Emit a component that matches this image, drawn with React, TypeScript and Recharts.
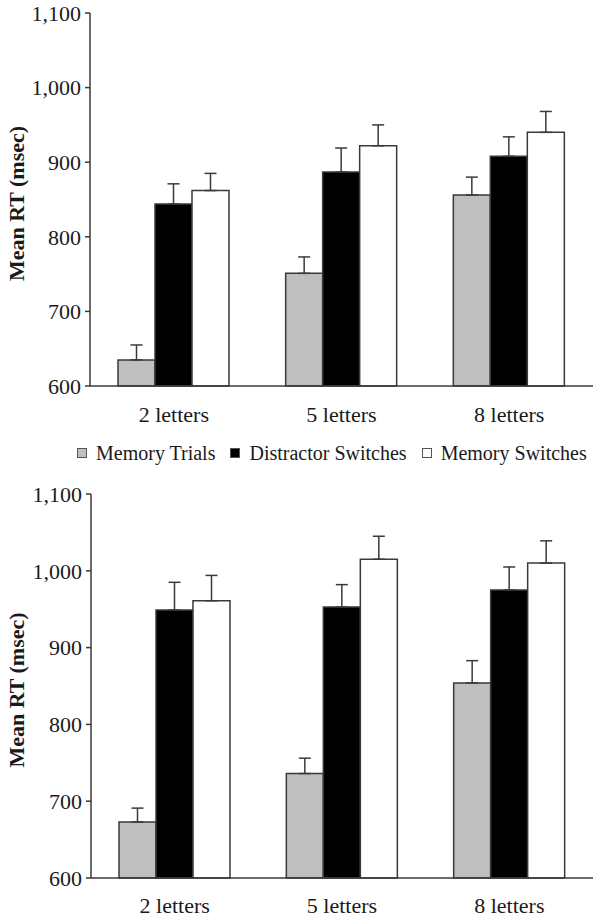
import { BarChart, Bar, XAxis, YAxis, ErrorBar } from "recharts"

const letterSets = ["2 letters", "5 letters", "8 letters"]
const seriesNames = ["Memory Trials", "Distractor Switches", "Memory Switches"]
const seriesFills = ["#bfbfbf", "#000000", "#ffffff"]

// upper panel means and SE (msec)
const upperMemoryTrials = [635, 751, 856]
const upperDistractorSwitches = [844, 887, 908]
const upperMemorySwitches = [862, 922, 940]
const upperMemoryTrialsErr = [20, 22, 24]
const upperDistractorSwitchesErr = [27, 32, 26]
const upperMemorySwitchesErr = [23, 28, 28]

// lower panel means and SE (msec)
const lowerMemoryTrials = [673, 736, 854]
const lowerDistractorSwitches = [949, 953, 975]
const lowerMemorySwitches = [961, 1015, 1010]
const lowerMemoryTrialsErr = [18, 20, 29]
const lowerDistractorSwitchesErr = [36, 29, 30]
const lowerMemorySwitchesErr = [33, 30, 29]

const rtTicks = [600, 700, 800, 900, 1000, 1100]
const boundaryTicks = [0, 1, 2, 3]

const FONT = "Liberation Serif, Times New Roman, Times, DejaVu Serif, serif"
const INK = "#1a1a1a"
const LINE = "#3a3a3a"

function buildRows(values: number[][], errs: number[][]) {
    return letterSets.map((name, i) => {
        const row: Record<string, any> = { name }
        values.forEach((series, s) => {
            row[`s${s}`] = series[i]
            // only the upper half of the error bar is drawn
            row[`e${s}`] = [0, errs[s][i]]
        })
        return row
    })
}

const upperRows = buildRows(
    [upperMemoryTrials, upperDistractorSwitches, upperMemorySwitches],
    [upperMemoryTrialsErr, upperDistractorSwitchesErr, upperMemorySwitchesErr],
)

const lowerRows = buildRows(
    [lowerMemoryTrials, lowerDistractorSwitches, lowerMemorySwitches],
    [lowerMemoryTrialsErr, lowerDistractorSwitchesErr, lowerMemorySwitchesErr],
)

function RtTitle({ viewBox }: any) {
    const cx = viewBox.x + 24
    const cy = viewBox.y + viewBox.height / 2 + 4
    return (
        <text
            x={cx}
            y={cy}
            transform={`rotate(-90 ${cx} ${cy})`}
            textAnchor="middle"
            style={{ fontFamily: FONT }}
            fontWeight="bold"
            fontSize={22}
            fill={INK}
        >
            Mean RT (msec)
        </text>
    )
}

interface PanelProps {
    rows: Record<string, any>[]
    height: number
    top: number
    bottom: number
    axisWidth: number
    xAxisHeight: number
    labelGap: number
}

function RtPanel({ rows, height, top, bottom, axisWidth, xAxisHeight, labelGap }: PanelProps) {
    return (
        <BarChart
            width={595}
            height={height}
            data={rows}
            margin={{ top, right: 2, bottom, left: 0 }}
            barGap={0}
            barSize={37}
            style={{ fontFamily: FONT }}
        >
            {/* tick marks between the letter groups */}
            <XAxis
                xAxisId="edges"
                type="number"
                domain={[0, 3]}
                ticks={boundaryTicks}
                allowDataOverflow
                height={0}
                tick={false}
                axisLine={false}
                tickSize={5}
                tickLine={{ stroke: LINE, strokeWidth: 1.5 }}
            />
            <XAxis
                dataKey="name"
                height={xAxisHeight}
                interval={0}
                tickLine={false}
                tickSize={0}
                tickMargin={labelGap}
                axisLine={{ stroke: LINE, strokeWidth: 1.5 }}
                tick={{ fill: INK, fontSize: 22, fontFamily: FONT }}
            />
            <YAxis
                type="number"
                domain={[600, 1100]}
                ticks={rtTicks}
                width={axisWidth}
                tickFormatter={(v: number) => v.toLocaleString("en-US")}
                tickSize={5}
                tickMargin={4}
                axisLine={{ stroke: LINE, strokeWidth: 1.5 }}
                tickLine={{ stroke: LINE, strokeWidth: 1.5 }}
                tick={{ fill: INK, fontSize: 22, fontFamily: FONT }}
                label={<RtTitle />}
            />
            {seriesNames.map((name, i) => (
                <Bar
                    key={name}
                    dataKey={`s${i}`}
                    name={name}
                    fill={seriesFills[i]}
                    stroke={LINE}
                    strokeWidth={1.5}
                    isAnimationActive={false}
                >
                    <ErrorBar
                        dataKey={`e${i}`}
                        direction="y"
                        width={6}
                        stroke={LINE}
                        strokeWidth={1.5}
                    />
                </Bar>
            ))}
        </BarChart>
    )
}

function SeriesLegend() {
    return (
        <div
            style={{
                position: "absolute",
                left: 77,
                top: 443,
                height: 20,
                display: "flex",
                alignItems: "center",
                fontFamily: FONT,
                fontSize: 20,
                lineHeight: "20px",
                color: INK,
                whiteSpace: "nowrap",
            }}
        >
            {seriesNames.map((name, i) => (
                <div
                    key={name}
                    style={{ display: "flex", alignItems: "center", marginRight: 15 }}
                >
                    <span
                        style={{
                            display: "inline-block",
                            width: 8,
                            height: 8,
                            background: seriesFills[i],
                            border: "1.5px solid #555",
                            marginRight: 9,
                        }}
                    />
                    <span>{name}</span>
                </div>
            ))}
        </div>
    )
}

export default function App() {
    return (
        <div
            style={{
                position: "absolute",
                left: 0,
                top: 0,
                width: 595,
                height: 917,
                background: "#fff",
                fontFamily: FONT,
            }}
        >
            <div style={{ position: "absolute", left: 0, top: 0 }}>
                <RtPanel
                    rows={upperRows}
                    height={430}
                    top={13}
                    bottom={4}
                    axisWidth={90}
                    xAxisHeight={40}
                    labelGap={20}
                />
            </div>

            <SeriesLegend />

            <div style={{ position: "absolute", left: 0, top: 460 }}>
                <RtPanel
                    rows={lowerRows}
                    height={457}
                    top={34}
                    bottom={3}
                    axisWidth={91}
                    xAxisHeight={36}
                    labelGap={19}
                />
            </div>
        </div>
    )
}
